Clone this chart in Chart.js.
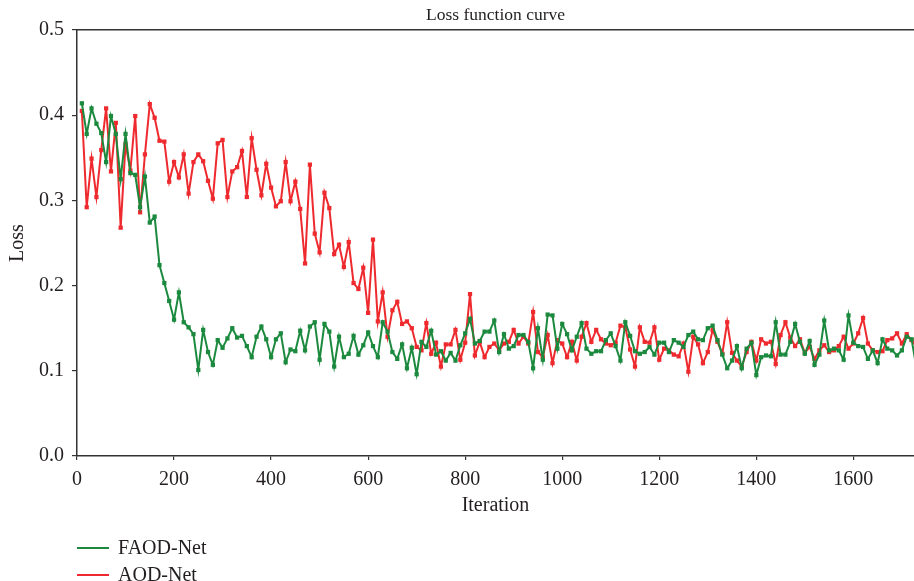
<!DOCTYPE html>
<html>
<head>
<meta charset="utf-8">
<script src="https://cdn.jsdelivr.net/npm/chart.js@4/dist/chart.umd.min.js"></script>
<style>
  html, body { margin: 0; padding: 0; background: #fff; }
  #wrap { position: relative; width: 914px; height: 581px; overflow: hidden; }
  #legend { position: absolute; left: 77px; top: 534px; font-family: 'Liberation Serif', 'DejaVu Serif', serif; font-size: 20px; color: #231f20; }
  .row { display: flex; align-items: center; height: 27px; }
  .swatch { width: 32px; height: 2px; margin-right: 9px; }
</style>
</head>
<body>
<div id="wrap">
  <canvas id="lossChart" width="914" height="581"></canvas>
  <div id="legend"></div>
</div>
<script>
// iteration step between logged points (10, 20, ... 1730)
const STEP = 10;

const faodLoss = [
  0.414, 0.378, 0.408, 0.390, 0.379, 0.345, 0.399, 0.378, 0.325, 0.378,
  0.332, 0.330, 0.292, 0.328, 0.274, 0.281, 0.224, 0.203, 0.182, 0.160,
  0.192, 0.157, 0.151, 0.143, 0.101, 0.148, 0.122, 0.107, 0.136, 0.127,
  0.138, 0.150, 0.139, 0.141, 0.129, 0.116, 0.140, 0.152, 0.137, 0.116,
  0.137, 0.144, 0.110, 0.125, 0.123, 0.147, 0.124, 0.152, 0.157, 0.113,
  0.155, 0.146, 0.105, 0.140, 0.116, 0.120, 0.141, 0.119, 0.130, 0.145,
  0.129, 0.116, 0.157, 0.146, 0.122, 0.114, 0.131, 0.103, 0.127, 0.096,
  0.134, 0.128, 0.147, 0.119, 0.123, 0.112, 0.121, 0.112, 0.130, 0.144,
  0.161, 0.132, 0.135, 0.146, 0.146, 0.159, 0.122, 0.143, 0.126, 0.129,
  0.142, 0.142, 0.134, 0.103, 0.150, 0.113, 0.166, 0.165, 0.126, 0.155,
  0.143, 0.124, 0.140, 0.156, 0.126, 0.120, 0.123, 0.123, 0.136, 0.144,
  0.129, 0.112, 0.157, 0.141, 0.123, 0.120, 0.122, 0.128, 0.119, 0.133,
  0.133, 0.122, 0.136, 0.133, 0.128, 0.142, 0.146, 0.137, 0.136, 0.150,
  0.153, 0.136, 0.119, 0.103, 0.112, 0.129, 0.103, 0.126, 0.133, 0.095,
  0.116, 0.118, 0.117, 0.157, 0.119, 0.119, 0.134, 0.155, 0.134, 0.120,
  0.135, 0.107, 0.119, 0.159, 0.124, 0.126, 0.124, 0.113, 0.165, 0.133,
  0.129, 0.128, 0.114, 0.124, 0.109, 0.137, 0.126, 0.124, 0.118, 0.124,
  0.140, 0.137, 0.104
];

const aodLoss = [
  0.405, 0.292, 0.349, 0.304, 0.359, 0.408, 0.334, 0.391, 0.268, 0.366,
  0.335, 0.399, 0.286, 0.354, 0.413, 0.397, 0.370, 0.369, 0.322, 0.345,
  0.327, 0.354, 0.308, 0.345, 0.354, 0.346, 0.323, 0.302, 0.367, 0.371,
  0.304, 0.334, 0.339, 0.358, 0.304, 0.373, 0.336, 0.306, 0.343, 0.315,
  0.293, 0.299, 0.345, 0.299, 0.322, 0.290, 0.226, 0.342, 0.261, 0.239,
  0.309, 0.291, 0.237, 0.248, 0.222, 0.251, 0.203, 0.196, 0.221, 0.168,
  0.254, 0.158, 0.192, 0.140, 0.171, 0.181, 0.155, 0.158, 0.150, 0.128,
  0.124, 0.156, 0.120, 0.133, 0.105, 0.131, 0.131, 0.148, 0.113, 0.133,
  0.190, 0.118, 0.134, 0.116, 0.128, 0.132, 0.124, 0.132, 0.134, 0.148,
  0.132, 0.140, 0.132, 0.169, 0.122, 0.116, 0.142, 0.109, 0.136, 0.132,
  0.116, 0.134, 0.112, 0.140, 0.156, 0.134, 0.148, 0.137, 0.132, 0.130,
  0.133, 0.153, 0.151, 0.125, 0.105, 0.151, 0.134, 0.133, 0.151, 0.113,
  0.126, 0.124, 0.119, 0.117, 0.132, 0.099, 0.140, 0.131, 0.109, 0.122,
  0.148, 0.134, 0.120, 0.157, 0.121, 0.112, 0.105, 0.122, 0.134, 0.112,
  0.137, 0.132, 0.134, 0.108, 0.142, 0.157, 0.139, 0.129, 0.137, 0.121,
  0.128, 0.114, 0.124, 0.130, 0.122, 0.124, 0.129, 0.140, 0.126, 0.132,
  0.144, 0.162, 0.132, 0.124, 0.122, 0.123, 0.136, 0.138, 0.144, 0.132,
  0.143, 0.136, 0.128
];

const yTicks = [0, 0.1, 0.2, 0.3, 0.4, 0.5];
const seriesNames = ['FAOD-Net', 'AOD-Net'];
const seriesColors = ['#1c8a3e', '#ee2a2e'];

const FONT = "'Liberation Serif', 'DejaVu Serif', serif";
const INK = '#231f20';

function toPoints(values) {
  return values.map((v, i) => ({ x: (i + 1) * STEP, y: v }));
}

function makeDataset(label, values, color) {
  return {
    label: label,
    data: toPoints(values),
    borderColor: color,
    backgroundColor: color,
    borderWidth: 2,
    pointStyle: 'rect',
    pointRadius: 3,
    pointBorderWidth: 0,
    pointBackgroundColor: color,
    tension: 0
  };
}

const ctx = document.getElementById('lossChart').getContext('2d');

const lossChart = new Chart(ctx, {
  type: 'line',
  data: {
    datasets: [
      makeDataset(seriesNames[0], faodLoss, seriesColors[0]),
      makeDataset(seriesNames[1], aodLoss, seriesColors[1])
    ]
  },
  options: {
    responsive: false,
    animation: false,
    devicePixelRatio: 1,
    layout: { autoPadding: false, padding: { left: 0, right: 0, top: 0, bottom: 61 } },
    plugins: {
      legend: { display: false },
      tooltip: { enabled: false },
      title: {
        display: true,
        text: 'Loss function curve',
        fullSize: false,
        color: INK,
        font: { family: FONT, size: 17.5, weight: 'normal' },
        padding: { top: 5, bottom: 4 }
      }
    },
    scales: {
      x: {
        type: 'linear',
        min: 0,
        max: 1725,
        afterFit: (scale) => { scale.height = 64; },
        ticks: {
          stepSize: 200,
          includeBounds: false,
          color: INK,
          padding: 8,
          maxRotation: 0,
          font: { family: FONT, size: 20 },
          callback: (value) => String(value)
        },
        grid: { display: true, drawOnChartArea: false, drawTicks: true, tickLength: 4, color: '#333', lineWidth: 1.2 },
        border: { display: true, color: '#333', width: 1.5 },
        title: {
          display: true,
          text: 'Iteration',
          color: INK,
          font: { family: FONT, size: 20 },
          padding: { top: 0, bottom: 2 }
        }
      },
      xTop: {
        type: 'linear',
        position: 'top',
        afterFit: (scale) => { scale.height = 0; },
        ticks: { display: false },
        grid: { display: true, drawOnChartArea: false, drawTicks: false },
        border: { display: true, color: '#333', width: 1.5 }
      },
      y: {
        min: 0,
        max: 0.5,
        afterFit: (scale) => { scale.width = 77; },
        afterBuildTicks: (scale) => { scale.ticks = yTicks.map(v => ({ value: v })); },
        ticks: {
          color: INK,
          padding: 8,
          font: { family: FONT, size: 20 },
          callback: (value) => Number(value).toFixed(1)
        },
        grid: { display: true, drawOnChartArea: false, drawTicks: true, tickLength: 5, color: '#333', lineWidth: 1.2 },
        border: { display: true, color: '#333', width: 1.5 },
        title: {
          display: true,
          text: 'Loss',
          color: INK,
          font: { family: FONT, size: 20 },
          padding: { top: 6, bottom: 4 }
        }
      }
    }
  }
});

// Vertical legend under the plot, built from the chart's own legend items
const legendBox = document.getElementById('legend');
Chart.defaults.plugins.legend.labels.generateLabels(lossChart).forEach((item) => {
  const row = document.createElement('div');
  row.className = 'row';
  const swatch = document.createElement('span');
  swatch.className = 'swatch';
  swatch.style.background = item.strokeStyle;
  const text = document.createElement('span');
  text.textContent = item.text;
  row.appendChild(swatch);
  row.appendChild(text);
  legendBox.appendChild(row);
});
</script>
</body>
</html>
